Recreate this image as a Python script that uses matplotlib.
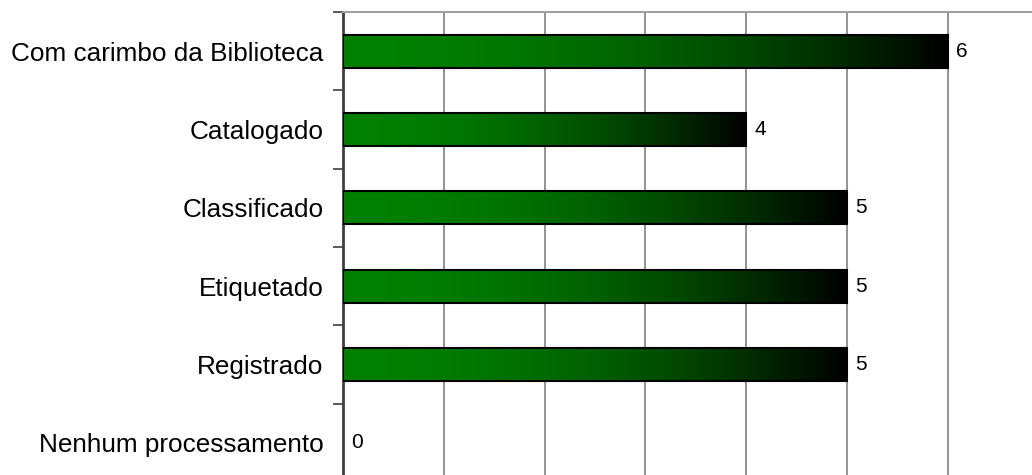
import matplotlib.pyplot as plt
import numpy as np
from matplotlib.colors import LinearSegmentedColormap
from matplotlib.patches import Rectangle

categorias = ['Com carimbo da Biblioteca', 'Catalogado', 'Classificado',
              'Etiquetado', 'Registrado', 'Nenhum processamento']
valores = [6, 4, 5, 5, 5, 0]

plt.rcParams['font.family'] = ['Liberation Sans', 'DejaVu Sans']

# verde -> preto, escurecendo mais no final da barra
t = np.linspace(0, 1, 256)
g = 128 / 255 * (1 - t ** 2.0)
verde_preto = LinearSegmentedColormap.from_list(
    'verde_preto', np.column_stack([np.zeros_like(g), g, np.zeros_like(g)]))
gradiente = np.linspace(0, 1, 256).reshape(1, -1)

fig = plt.figure(figsize=(10.32, 4.75), dpi=100)
ax = fig.add_axes([0.3324, -0.0147, 0.6837, 0.9895])

y = np.arange(len(categorias))
altura = 0.42
for yi, v in zip(y, valores):
    if v > 0:
        ret = Rectangle((0, yi - altura / 2), v, altura, facecolor='none',
                        edgecolor='black', linewidth=1.5, zorder=4)
        ax.add_patch(ret)
        img = ax.imshow(gradiente, cmap=verde_preto, aspect='auto',
                        extent=(0, v, yi + altura / 2, yi - altura / 2),
                        interpolation='bilinear', zorder=3)
        img.set_clip_path(ret)
    ax.text(v + 0.085, yi, str(v), va='center', ha='left', fontsize=15,
            color='black', zorder=5)

ax.set_xlim(0, 7)
ax.set_ylim(len(categorias) - 0.5, -0.5)

for xv in range(1, 8):
    ax.axvline(xv, color='#808080', linewidth=1.2, zorder=1)

ax.set_yticks(y)
ax.set_yticklabels(categorias, fontsize=18.8)
ax.set_yticks(np.arange(-0.5, len(categorias)), minor=True)
ax.tick_params(axis='y', which='major', length=0, pad=14)
ax.tick_params(axis='y', which='minor', length=7, width=1.2, color='#404040')
ax.set_xticks([])

ax.spines['left'].set_color('#404040')
ax.spines['left'].set_linewidth(2)
ax.spines['top'].set_color('#a0a0a0')
ax.spines['top'].set_linewidth(1.5)
ax.spines['right'].set_visible(False)
ax.spines['bottom'].set_visible(False)

fig.savefig('out.png', dpi=100)
